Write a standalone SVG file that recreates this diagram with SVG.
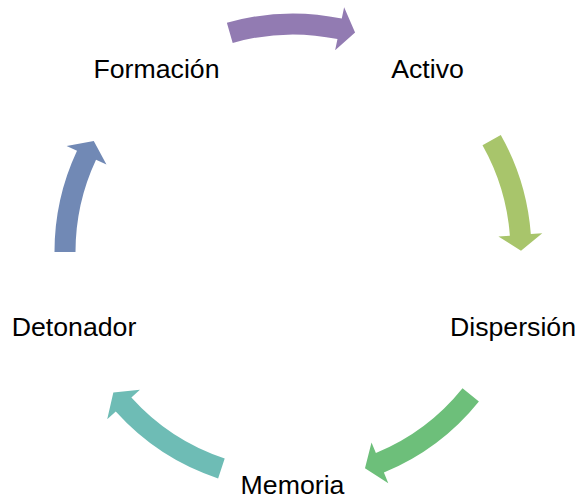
<svg xmlns="http://www.w3.org/2000/svg" width="578" height="501" viewBox="0 0 578 501">
<style>
.lbl{font-family:"Liberation Sans",Arial,sans-serif;font-size:26.7px;fill:#000;text-anchor:middle}
</style>
<rect width="578" height="501" fill="#fff"/>
<g id="connectors">
<path id="arrow-formacion-activo" fill="#927BB2" d="M226.86,22.85 A238.5,238.5 0 0 1 341.77,18.53 L344.13,7.27 L355.08,32.62 L335.13,50.35 L337.48,39.09 A217.5,217.5 0 0 0 232.69,43.03 Z"/>
<path id="arrow-activo-dispersion" fill="#A8C56B" d="M500.78,134.92 A238.5,238.5 0 0 1 530.83,234.12 L542.30,233.25 L521.0,250.81 L498.42,236.55 L509.89,235.69 A217.5,217.5 0 0 0 482.49,145.23 Z"/>
<path id="arrow-dispersion-memoria" fill="#6DBF7A" d="M478.89,401.44 A238.5,238.5 0 0 1 383.89,472.49 L388.28,483.13 L364.98,468.35 L371.51,442.45 L375.89,453.08 A217.5,217.5 0 0 0 462.52,388.29 Z"/>
<path id="arrow-memoria-detonador" fill="#6EBCB5" d="M218.11,478.43 A238.5,238.5 0 0 1 115.77,411.58 L107.22,419.28 L113.34,392.38 L139.92,389.83 L131.38,397.53 A217.5,217.5 0 0 0 224.70,458.49 Z"/>
<path id="arrow-detonador-formacion" fill="#7189B5" d="M54.5,252 A238.5,238.5 0 0 1 77.01,150.83 L66.60,145.95 L93.77,141.12 L106.45,164.61 L96.03,159.74 A217.5,217.5 0 0 0 75.5,252 Z"/>
</g>
<g id="node-formacion"><text class="lbl" x="156.5" y="78">Formación</text></g>
<g id="node-activo"><text class="lbl" x="427.5" y="78">Activo</text></g>
<g id="node-dispersion"><text class="lbl" x="513" y="336">Dispersión</text></g>
<g id="node-memoria"><text class="lbl" x="292.5" y="493.5">Memoria</text></g>
<g id="node-detonador"><text class="lbl" x="74" y="336">Detonador</text></g>
</svg>
